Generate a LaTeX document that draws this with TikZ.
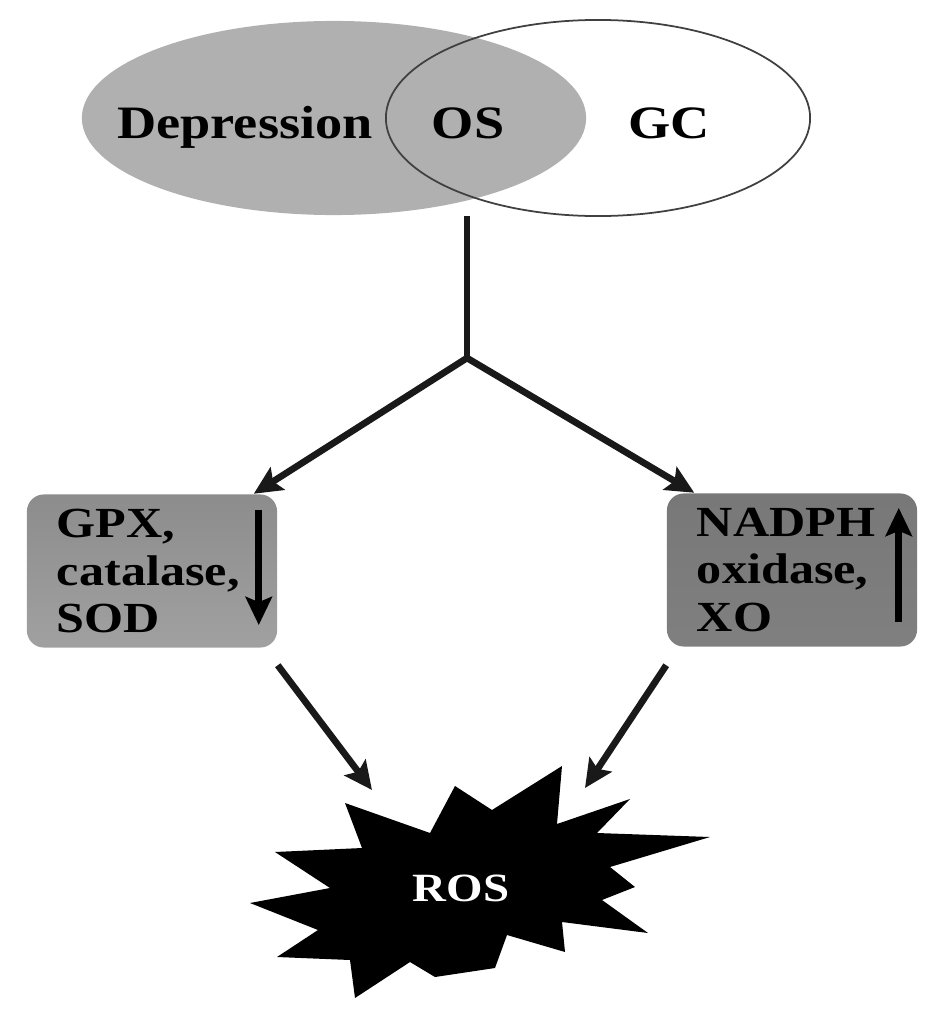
\documentclass[tikz,border=0pt]{standalone}
\usepackage{fontspec}
\setmainfont[FakeStretch=1.17]{Liberation Serif}
\usetikzlibrary{arrows.meta,shapes.geometric,positioning}

\begin{document}
\begin{tikzpicture}[x=0.01cm,y=-0.01cm,>={Stealth[length=8pt,width=7.5pt,inset=1.5pt]},
  link/.style={line width=1.9pt,black!90,->},
  venn/.style={font=\fontsize{13.2pt}{16pt}\selectfont\bfseries,anchor=base},
  enzbox/.style={rounded corners=4.8pt,minimum width=2.5cm,minimum height=1.53cm,
    text width=1.9cm,align=left,inner xsep=0.3cm,
    font=\fontsize{12.2pt}{13.4pt}\selectfont\bfseries}]
  \useasboundingbox (0,0) rectangle (945,1018);
  % overlapping sets
  \node[ellipse,fill=black!31,minimum width=5.04cm,minimum height=1.94cm,inner sep=0] (grayell) at (334,118) {};
  \node[ellipse,draw=black!75,line width=0.5pt,minimum width=4.24cm,minimum height=1.96cm,inner sep=0] (whiteell) at (598,118) {};
  \node[venn] (depr) at (245,138) {Depression};
  \node[venn] (os) at (468,138) {OS};
  \node[venn] (gc) at (669,138) {GC};
  % fork
  \coordinate (fork) at (467,358);
  \draw[line width=1.9pt,black!90] (grayell.south -| fork) -- (fork);
  \node[enzbox,top color=black!45,bottom color=black!37] (lbox) at (152,571) {GPX,\\catalase,\\SOD};
  \node[enzbox,top color=black!53,bottom color=black!50] (rbox) at (792,570) {NADPH\\oxidase,\\XO};
  \draw[link] (fork) -- ([xshift=-0.24cm]lbox.north east);
  \draw[link] (fork) -- ([xshift=0.28cm]rbox.north west);
  % down / up
  \draw[link,black] ([xshift=-0.19cm,yshift=0.61cm]lbox.east) -- ([xshift=-0.19cm,yshift=-0.54cm]lbox.east);
  \draw[link,black] ([xshift=-0.19cm,yshift=-0.52cm]rbox.east) -- ([xshift=-0.19cm,yshift=0.62cm]rbox.east);
  % burst
  \fill[black] (345,803) -- (430,833) -- (455,786) -- (492,810) -- (562,766) -- (557,824)
    -- (630,799) -- (597,833) -- (710,837) -- (610,867) -- (635,887) -- (602,900)
    -- (648,933) -- (562,922) -- (565,952) -- (507,935) -- (495,968) -- (435,977)
    -- (410,962) -- (355,998) -- (350,960) -- (277,957) -- (318,930) -- (250,903)
    -- (330,888) -- (275,852) -- (362,848) -- cycle;
  \node[font=\fontsize{11.4pt}{13pt}\selectfont\bfseries,text=white] (ros) at (461,888) {ROS};
  \coordinate (lend) at (372,790);
  \coordinate (rend) at (585,788);
  \draw[link] ([yshift=-0.17cm]lbox.south east) -- (lend);
  \draw[link] ([yshift=-0.18cm]rbox.south west) -- (rend);
\end{tikzpicture}
\end{document}
